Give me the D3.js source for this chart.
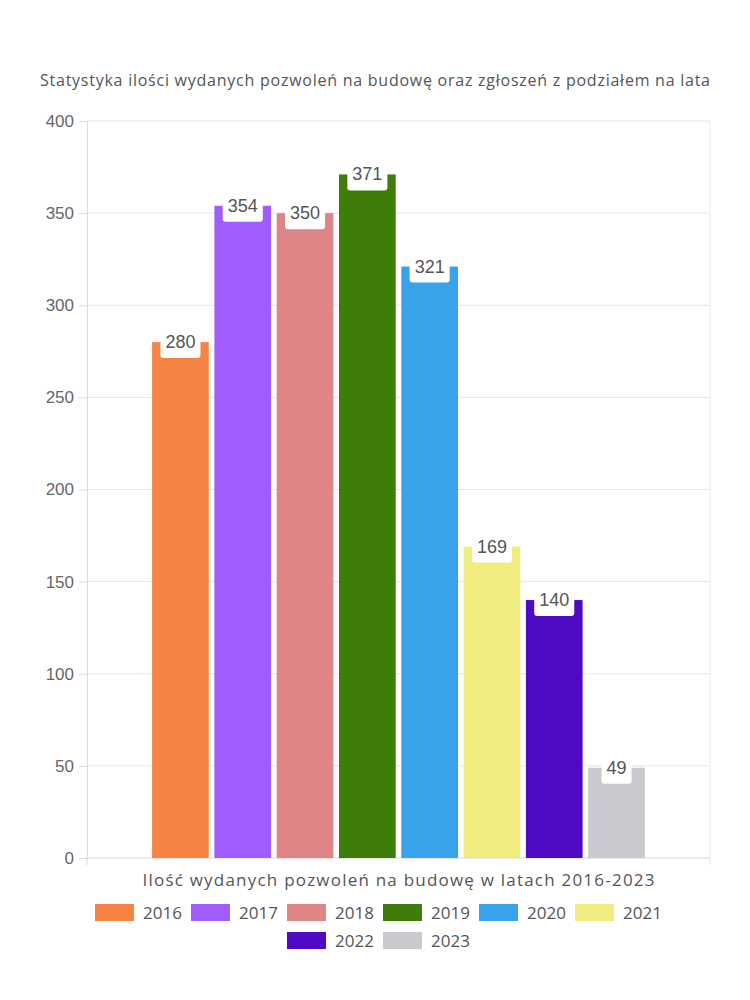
<!DOCTYPE html>
<html><head><meta charset="utf-8">
<script src="https://cdn.jsdelivr.net/npm/d3@7"></script>
<style>body{margin:0;background:#fff}svg{display:block}</style>
</head><body>
<svg id="c" width="750" height="1000"></svg>
<script>
const years = ["2016","2017","2018","2019","2020","2021","2022","2023"];
const values = [280, 354, 350, 371, 321, 169, 140, 49];
const colors = ["#F58442","#A05CFF","#E08585","#3F7D0B","#38A3EA","#F0EC7F","#4F0BC4","#C9CACE"];
const yTicks = [0,50,100,150,200,250,300,350,400];
const title = "Statystyka ilości wydanych pozwoleń na budowę oraz zgłoszeń z podziałem na lata";
const xTitle = "Ilość wydanych pozwoleń na budowę w latach 2016-2023";

const svg = d3.select("#c");
const L = 87, R = 710, T = 121, B = 858;
const roundFont = "'Open Sans', Lato, sans-serif";
const numFont = "'Liberation Sans', Arial, sans-serif";

const y = d3.scaleLinear().domain([0,400]).range([B,T]);
const groupW = (R-L)*0.8;
const x = d3.scaleBand().domain(years).range([(L+R)/2-groupW/2,(L+R)/2+groupW/2]).paddingInner(0.09).paddingOuter(0.045);

// grid
svg.append("g").selectAll("line").data(yTicks.filter(d=>d>0)).join("line")
  .attr("x1",L).attr("x2",R).attr("y1",d=>y(d)).attr("y2",d=>y(d))
  .attr("stroke","#e6e6e6").attr("stroke-width",1);

// y axis
const ya = svg.append("g").attr("transform",`translate(${L},0)`)
  .call(d3.axisLeft(y).tickValues(yTicks).tickSize(8).tickPadding(5));
ya.select(".domain").attr("stroke","#dcdcdc");
ya.selectAll(".tick line").attr("stroke","#dcdcdc");
ya.selectAll("text").attr("fill","#666").style("font-family",numFont).style("font-size","17px");

// right border
svg.append("line").attr("x1",R).attr("x2",R).attr("y1",T).attr("y2",B+7).attr("stroke","#e6e6e6");
// bottom axis
svg.append("line").attr("x1",L).attr("x2",R).attr("y1",B).attr("y2",B).attr("stroke","#d6d6d6");
svg.append("line").attr("x1",L).attr("x2",L).attr("y1",B).attr("y2",B+7).attr("stroke","#dcdcdc");

// bars
svg.append("g").selectAll("rect").data(values).join("rect")
  .attr("x",(d,i)=>x(years[i])).attr("width",x.bandwidth())
  .attr("y",d=>y(d)).attr("height",d=>B-y(d))
  .attr("fill",(d,i)=>colors[i]);

// labels
const lab = svg.append("g").selectAll("g").data(values).join("g")
  .attr("transform",(d,i)=>`translate(${x(years[i])+x.bandwidth()/2},${y(d)})`);
lab.append("text").text(d=>d).attr("text-anchor","middle").attr("y",6)
  .attr("fill","#555").style("font-family",numFont).style("font-size","18px")
  .each(function(){
    const bb=this.getBBox();
    d3.select(this.parentNode).insert("rect","text")
      .attr("x",bb.x-5).attr("width",bb.width+10).attr("y",-10).attr("height",26)
      .attr("rx",3).attr("fill","#fff");
  });

// title
svg.append("text").attr("x",375).attr("y",86).attr("text-anchor","middle")
  .attr("fill","#555").style("font-family",roundFont).style("font-size","16px")
  .attr("textLength",670).attr("lengthAdjust","spacing").text(title);
// x title
svg.append("text").attr("x",(L+R)/2).attr("y",886).attr("text-anchor","middle")
  .attr("fill","#555").style("font-family",roundFont).style("font-size","17px")
  .attr("textLength",512).attr("lengthAdjust","spacing").text(xTitle);

// legend
const itemW = 96;
const rows = [years.slice(0,6), years.slice(6)];
rows.forEach((row,ri)=>{
  const startX = 375 - (row.length*itemW - 16)/2;
  const cy = 913 + ri*28;
  row.forEach((yr,j)=>{
    const idx = years.indexOf(yr);
    const gx = startX + j*itemW;
    svg.append("rect").attr("x",gx).attr("y",cy-9).attr("width",39).attr("height",17).attr("fill",colors[idx]);
    svg.append("text").attr("x",gx+48).attr("y",cy+6).attr("fill","#555")
      .style("font-family",roundFont).style("font-size","17px").text(yr);
  });
});
</script>
</body></html>
